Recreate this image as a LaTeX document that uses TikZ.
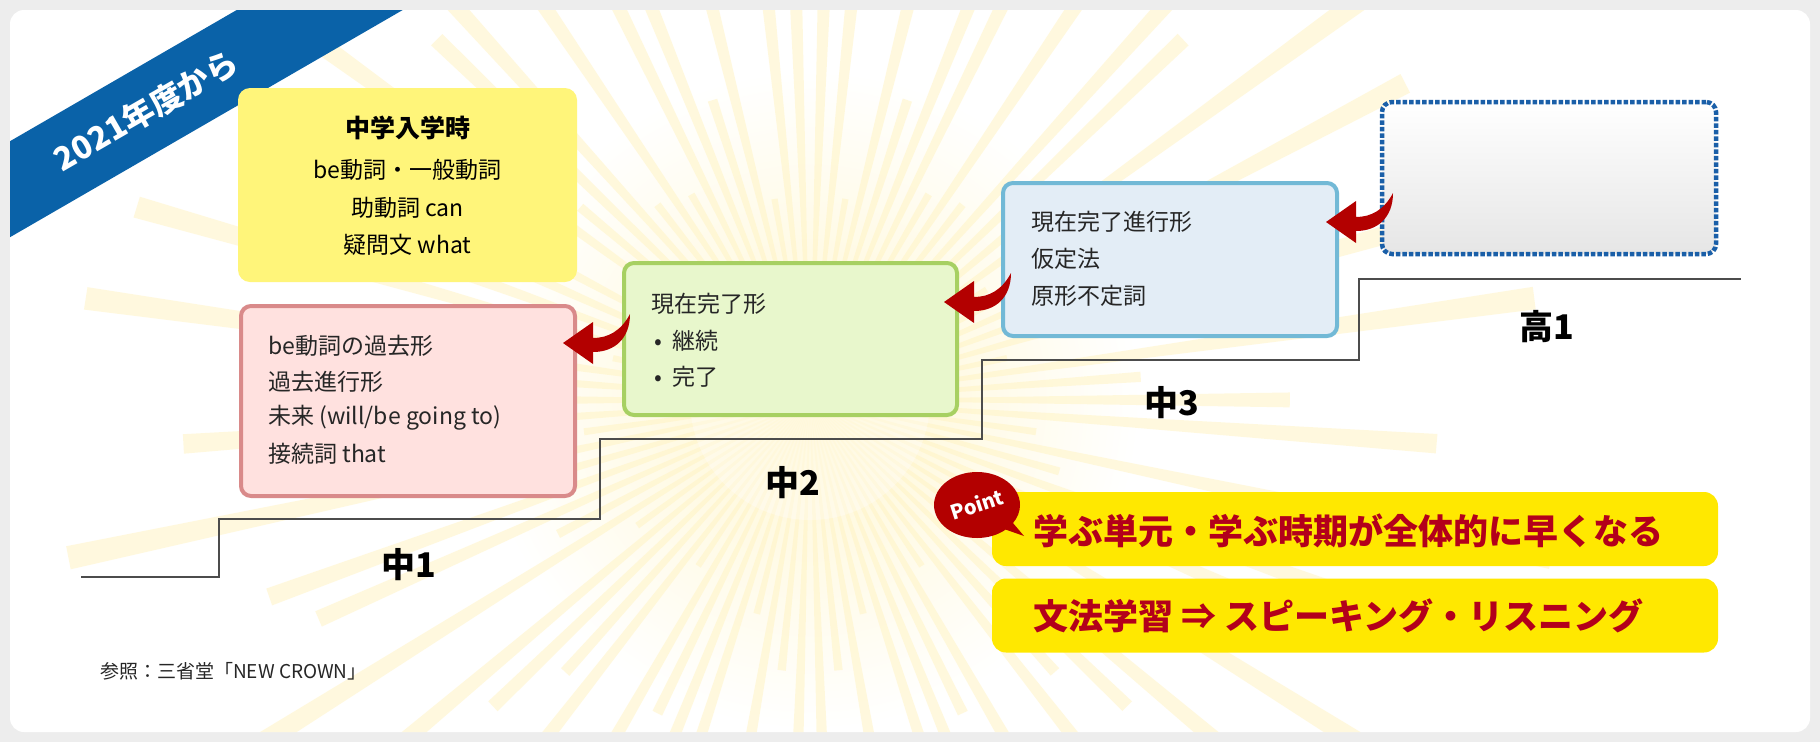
\documentclass[tikz,border=0pt]{standalone}
\usepackage{fontspec}
\setmainfont{Noto Sans CJK JP}
\usetikzlibrary{arrows.meta,shapes.callouts}
\definecolor{frame}{HTML}{EDEDED}
\definecolor{bannerblue}{HTML}{0A62A8}
\definecolor{ybox}{HTML}{FFF57A}
\definecolor{pinkf}{HTML}{FFE1DF}
\definecolor{pinkd}{HTML}{D98A8A}
\definecolor{greenf}{HTML}{E8F7CC}
\definecolor{greend}{HTML}{A7D062}
\definecolor{bluef}{HTML}{E3EDF6}
\definecolor{blued}{HTML}{72B9D6}
\definecolor{dotblue}{HTML}{1A5FA8}
\definecolor{arrred}{HTML}{B30000}
\definecolor{pointy}{HTML}{FFE800}
\definecolor{pointt}{HTML}{B3001B}
\definecolor{ray}{HTML}{FFF4C4}
\tikzset{
  txt/.style={anchor=west,inner sep=0pt,font=\fontsize{23}{26}\selectfont,text=black!85},
  lvl/.style={font=\bfseries\fontsize{34}{38}\selectfont,inner sep=0pt},
  stepbox/.style={rounded corners=10pt,line width=4pt},
  pt/.style={anchor=west,inner sep=0pt,font=\bfseries\fontsize{35}{38}\selectfont,text=pointt}
}
\newcommand\redswoosh[1]{%
  \begin{scope}[shift={(#1)}]
  \fill[arrred] (0,0) -- (30,-21) -- (30,-5) .. controls (45,-5) and (58,-12) .. (67,-29)
     .. controls (67,-5) and (52,9) .. (30,9) -- (30,21) -- cycle;
  \end{scope}}
\begin{document}
\begin{tikzpicture}[x=1pt,y=-1pt]
\useasboundingbox (0,0) rectangle (1820,742);
\fill[frame] (0,0) rectangle (1820,742);
\fill[white,rounded corners=14pt] (10,10) rectangle (1810,732);
\begin{scope}
\clip[rounded corners=14pt] (10,10) rectangle (1810,732);
\shade[inner color=ray!80,outer color=white] (810,400) circle (330);
\foreach \a in {0,4,...,356}{
  \pgfmathsetmacro\r{480+280*sin(\a*37)}
  \fill[ray,opacity=0.55] (810,400) -- ++(\a-0.9:\r) -- ++(\a+90.9:{\r*0.031}) -- cycle;
}
\fill[white,opacity=0.3] (810,400) circle (120);
\fill[bannerblue] (254,0) -- (420,0) -- (0,243) -- (0,147) -- cycle;
\end{scope}
\node[rotate=30,text=white,font=\bfseries\fontsize{32}{34}\selectfont] (banner) at (146,110) {2021年度から};

% stairs
\draw[line width=1.5pt,black!70] (81,577) -- (219,577) -- (219,519) -- (600,519) -- (600,439) -- (982,439) -- (982,360) -- (1359,360) -- (1359,279) -- (1741,279);

% boxes
\node[fill=ybox,rounded corners=12pt,minimum width=339pt,minimum height=194pt] (y) at (407.5,185) {};
\node[font=\bfseries\fontsize{25}{28}\selectfont,inner sep=0pt] (yt) at (407.5,128) {中学入学時};
\node[font=\fontsize{23}{26}\selectfont,inner sep=0pt] (y1) at (407.5,170) {be動詞・一般動詞};
\node[font=\fontsize{23}{26}\selectfont,inner sep=0pt] (y2) at (407.5,208) {助動詞 can};
\node[font=\fontsize{23}{26}\selectfont,inner sep=0pt] (y3) at (407.5,245) {疑問文 what};

\node[stepbox,draw=pinkd,fill=pinkf,minimum width=334pt,minimum height=190pt] (p) at (408,401) {};
\node[txt] (p1) at (268,346) {be動詞の過去形};
\node[txt] (p2) at (268,382) {過去進行形};
\node[txt] (p3) at (268,418) {未来 (will/be going to)};
\node[txt] (p4) at (268,454) {接続詞 that};

\node[stepbox,draw=greend,fill=greenf,minimum width=333pt,minimum height=152pt] (g) at (790.5,339) {};
\node[txt] (g1) at (651,304) {現在完了形};
\node[txt] (g2) at (654,341) {•\ \ 継続};
\node[txt] (g3) at (654,377) {•\ \ 完了};

\node[stepbox,draw=blued,fill=bluef,minimum width=334pt,minimum height=153pt] (b) at (1170,259.5) {};
\node[txt] (b1) at (1031,222) {現在完了進行形};
\node[txt] (b2) at (1031,259) {仮定法};
\node[txt] (b3) at (1031,296) {原形不定詞};

\node[rounded corners=10pt,draw=dotblue,line width=4.5pt,dotted,top color=white,bottom color=black!10,minimum width=334pt,minimum height=152pt] (h) at (1549,178) {};

% level labels
\node[lvl] (l1) at (409,565) {中1};
\node[lvl] (l2) at (793,483) {中2};
\node[lvl] (l3) at (1172,403) {中3};
\node[lvl] (l4) at (1547,327) {高1};

% arrows
\coordinate (h1) at (563,343);
\coordinate (h2) at (944,302);
\coordinate (h3) at (1326,222);
\redswoosh{h1}
\redswoosh{h2}
\redswoosh{h3}

% point boxes
\node[fill=pointy,rounded corners=14pt,minimum width=726pt,minimum height=74pt] (pb1) at (1355,529) {};
\node[fill=pointy,rounded corners=14pt,minimum width=726pt,minimum height=74pt] (pb2) at (1355,615.5) {};
\node[pt] (pt1) at (1033,531) {学ぶ単元・学ぶ時期が全体的に早くなる};
\node[pt] (pt2) at (1033,616) {文法学習 ⇒ スピーキング・リスニング};
\node[ellipse callout,fill=arrred,minimum width=86pt,minimum height=66pt,callout absolute pointer={(1024,536)},inner sep=0pt] (bub) at (977,505) {};
\node[rotate=18,text=white,font=\bfseries\itshape\fontsize{20}{22}\selectfont] (bubt) at (977,504) {Point};

\node[anchor=west,inner sep=0pt,font=\fontsize{19}{21}\selectfont,text=black!85] (src) at (100,671) {参照：三省堂「NEW CROWN」};
\end{tikzpicture}
\end{document}
